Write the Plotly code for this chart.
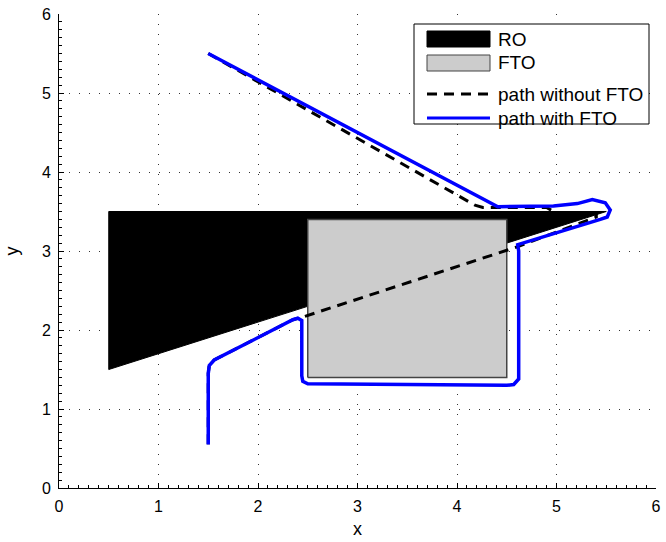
import plotly.graph_objects as go

# Regular obstacle (RO) polygon
ro_x = [0.5, 5.5, 0.5, 0.5]
ro_y = [3.5, 3.5, 1.5, 3.5]

# Fictitious obstacle (FTO) rectangle
fto_x = [2.5, 4.5, 4.5, 2.5, 2.5]
fto_y = [1.4, 1.4, 3.4, 3.4, 1.4]

# Path without FTO
path_without_x = [1.5, 4.18, 4.26, 4.45, 4.90, 5.00, 5.40, 5.40, 4.60, 2.44, 2.40, 2.35, 1.56, 1.51, 1.50, 1.50]
path_without_y = [5.5, 3.58, 3.55, 3.55, 3.55, 3.48, 3.47, 3.43, 3.05, 2.16, 2.15, 2.13, 1.62, 1.55, 1.45, 0.55]

# Path with FTO
path_with_x = [1.5, 4.41, 4.97, 5.21, 5.36, 5.49, 5.54, 5.51, 5.44, 4.61, 4.62, 4.62, 4.57, 4.50,
               2.50, 2.45, 2.44, 2.44, 2.40, 2.35, 1.56, 1.51, 1.50, 1.50]
path_with_y = [5.5, 3.56, 3.57, 3.60, 3.65, 3.61, 3.52, 3.43, 3.40, 3.08, 3.00, 1.38, 1.31, 1.30,
               1.32, 1.35, 1.42, 2.12, 2.15, 2.13, 1.62, 1.55, 1.45, 0.55]

legend_labels = ["RO", "FTO", "path without FTO", "path with FTO"]

FONT = "Liberation Sans, Arial, Helvetica, sans-serif"
BLUE = "#0000ff"

fig = go.Figure()
fig.add_trace(go.Scatter(x=ro_x, y=ro_y, fill="toself", fillcolor="black", mode="lines",
                         line=dict(color="black", width=1), name=legend_labels[0]))
fig.add_trace(go.Scatter(x=fto_x, y=fto_y, fill="toself", fillcolor="#cccccc", mode="lines",
                         line=dict(color="#444444", width=1.5), name=legend_labels[1]))
fig.add_trace(go.Scatter(x=path_without_x, y=path_without_y, mode="lines",
                         line=dict(color="black", width=3, dash="10px,7px"), name=legend_labels[2]))
fig.add_trace(go.Scatter(x=path_with_x, y=path_with_y, mode="lines",
                         line=dict(color=BLUE, width=3.5), name=legend_labels[3]))

axis_common = dict(
    range=[0, 6], dtick=1, tick0=0, showline=True, linecolor="black", linewidth=1,
    ticks="inside", ticklen=5, tickcolor="black", showgrid=True, gridcolor="#333333",
    gridwidth=1, griddash="1px,9px", zeroline=False, ticklabelstandoff=4, automargin=False,
    tickfont=dict(family=FONT, size=16, color="black"),
    minor=dict(dtick=0.1, ticks="inside", ticklen=3, tickcolor="black", showgrid=False),
)

# ---- manual legend (MATLAB style) ----
L, R, T, B = 59, 656, 14, 488
def px(xp):
    return (xp - L) / (R - L)
def py(yp):
    return (B - yp) / (B - T)

shapes = [
    dict(type="rect", xref="paper", yref="paper", x0=px(414), x1=px(649), y0=py(124), y1=py(24),
         line=dict(color="black", width=1), fillcolor="white", layer="above"),
    dict(type="rect", xref="paper", yref="paper", x0=px(427), x1=px(490), y0=py(47), y1=py(31),
         line=dict(color="black", width=1), fillcolor="black", layer="above"),
    dict(type="rect", xref="paper", yref="paper", x0=px(427), x1=px(490), y0=py(71), y1=py(55),
         line=dict(color="#444444", width=1), fillcolor="#cccccc", layer="above"),
    dict(type="line", xref="paper", yref="paper", x0=px(427), x1=px(490), y0=py(94), y1=py(94),
         line=dict(color="black", width=3, dash="10px,7px"), layer="above"),
    dict(type="line", xref="paper", yref="paper", x0=px(427), x1=px(490), y0=py(118), y1=py(118),
         line=dict(color=BLUE, width=3), layer="above"),
]
row_y = [39, 63, 94, 119]
annotations = [
    dict(text=lab, xref="paper", yref="paper", x=px(496), y=py(yy), xanchor="left",
         yanchor="middle", showarrow=False, font=dict(family=FONT, size=19, color="black"))
    for lab, yy in zip(legend_labels, row_y)
]

fig.update_layout(
    width=666, height=542,
    margin=dict(l=L, r=666 - R, t=T, b=542 - B, autoexpand=False),
    plot_bgcolor="white", paper_bgcolor="white",
    font=dict(family=FONT, color="black"),
    xaxis=dict(axis_common, title=dict(text="x", font=dict(size=18), standoff=8)),
    yaxis=dict(axis_common, title=dict(text="y", font=dict(size=18), standoff=18)),
    showlegend=False,
    shapes=shapes,
    annotations=annotations,
)

fig.write_html("out.html")
